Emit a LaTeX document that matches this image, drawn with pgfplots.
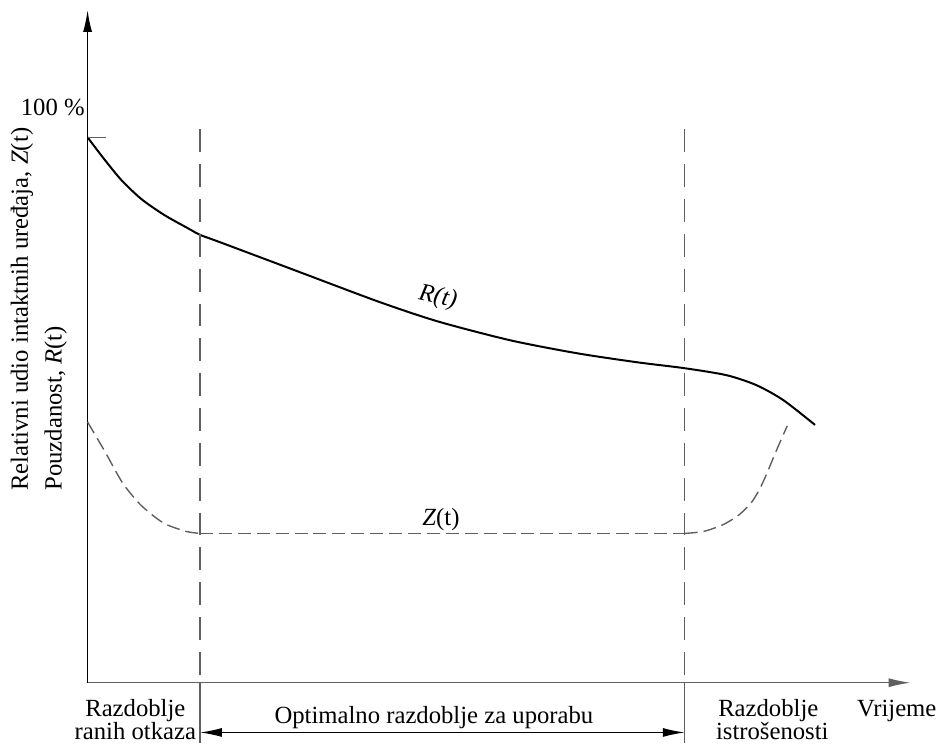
\documentclass[border=0pt]{standalone}
\usepackage{fontspec}
\setmainfont{Liberation Serif}
\usepackage{pgfplots}
\pgfplotsset{compat=1.18}
\usetikzlibrary{arrows.meta}
\definecolor{dgray}{RGB}{95,95,95}
\begin{document}
\begin{tikzpicture}[font=\fontsize{12.4}{13}\selectfont]
\begin{axis}[
  scale only axis,
  width=413.5pt, height=338pt,
  xmin=88, xmax=915, ymin=61, ymax=737,
  axis lines=left,
  x axis line style={draw=dgray, line width=0.7pt, -{Latex[length=11pt,width=4.5pt]}},
  y axis line style={draw=black, line width=0.75pt, -{Latex[length=11pt,width=4.5pt]}},
  xtick=\empty, ytick=\empty,
  clip=false,
]
% R(t)
\addplot[black, line width=1pt, smooth, tension=0.45] coordinates {
(88,609) (104,588) (122,566) (142,547) (165,531) (190,517) (201,511) (220,504)
(300,474) (380,444) (440,424) (513,405) (580,392) (640,383)
(688,377) (730,370) (760,360) (787,345) (819,320)};
% Z(t)
\addplot[dgray, line width=0.7pt, dash pattern=on 6.5pt off 3pt, smooth, tension=0.45] coordinates {
(88,323) (105,294) (123,262) (140,241) (155,228) (167,220) (187,213) (201,211)};
\addplot[dgray, line width=0.7pt, dash pattern=on 6.5pt off 3pt] coordinates {
(201,211) (688,211)};
\addplot[dgray, line width=0.7pt, dash pattern=on 6.5pt off 3pt, smooth, tension=0.45] coordinates {
(688,211) (707,213) (727,220) (743,230) (755,242) (763,255) (770,270) (780,294) (791,319)};
% period boundaries
\addplot[dgray, line width=0.7pt, dash pattern=on 11.5pt off 6pt] coordinates {(201,617) (201,61)};
\addplot[dgray, line width=0.7pt, dash pattern=on 11.5pt off 6pt] coordinates {(688,617) (688,61)};
\addplot[dgray, line width=0.7pt] coordinates {(201,61) (201,0)};
\addplot[dgray, line width=0.7pt] coordinates {(688,61) (688,0)};
% 100% tick
\addplot[dgray, line width=0.7pt] coordinates {(88,609) (107,609)};
% double arrow
\draw[black, line width=0.6pt, {Latex[length=11pt,width=4.5pt]}-{Latex[length=11pt,width=4.5pt]}] (axis cs:201,11) -- (axis cs:688,11);
% labels
\node[anchor=base] at (axis cs:53,631) {100~\%};
\node[rotate=90, anchor=base west] at (axis cs:28,247) {Relativni udio intaktnih uređaja, \textit{Z}(t)};
\node[rotate=90, anchor=base west] at (axis cs:62,247) {Pouzdanost, \textit{R}(t)};
\node[rotate=-12] at (axis cs:440,448) {\textit{R(t)}};
\node[anchor=base] at (axis cs:443,219) {\textit{Z}(t)};
\node[anchor=base] at (axis cs:136,27) {Razdoblje};
\node[anchor=base] at (axis cs:136,4) {ranih otkaza};
\node[anchor=base] at (axis cs:436,20) {Optimalno razdoblje za uporabu};
\node[anchor=base] at (axis cs:772,27) {Razdoblje};
\node[anchor=base] at (axis cs:776,4) {istrošenosti};
\node[anchor=base] at (axis cs:901,27) {Vrijeme};
\path (axis cs:0,0) rectangle (axis cs:943,747);
\end{axis}
\end{tikzpicture}
\end{document}
